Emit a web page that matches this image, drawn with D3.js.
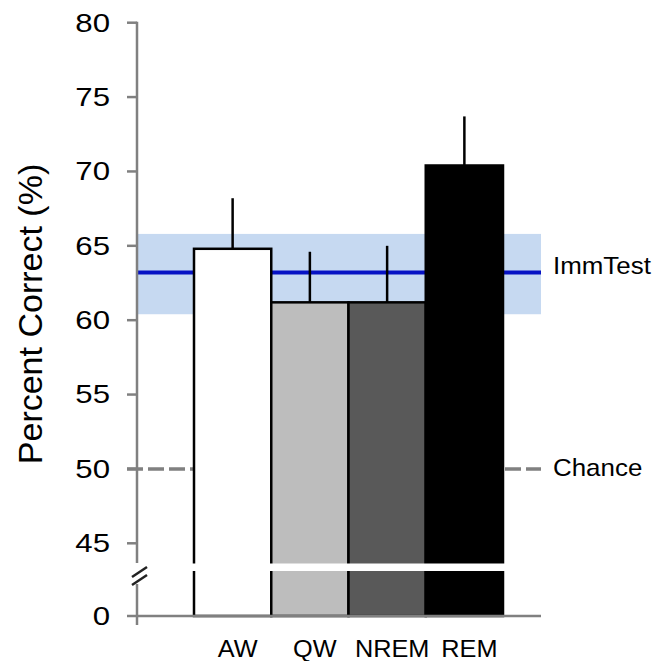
<!DOCTYPE html>
<html>
<head>
<meta charset="utf-8">
<script src="https://cdn.jsdelivr.net/npm/d3@7"></script>
<style>
  body { margin: 0; background: #fff; }
  text { font-family: "Liberation Sans", Arial, sans-serif; fill: #000; }
</style>
</head>
<body>
<div id="chart"></div>
<script>
// data
var groups = ["AW", "QW", "NREM", "REM"];
var means = [64.8, 61.2, 61.2, 70.4];
var errs = [3.4, 3.4, 3.8, 3.3];
var barColors = ["#ffffff", "#bdbdbd", "#595959", "#000000"];
var yTicks = [45, 50, 55, 60, 65, 70, 75, 80];
var immTest = [63.2, 60.4, 65.8];   // mean, low, high
var chance = [50];

var W = 668, H = 661;
var axisX = 137, base = 616, rightEnd = 541;

var svg = d3.select("#chart").append("svg")
    .attr("width", W)
    .attr("height", H);

// text in the picture is a bit wider than plain Arial
function wideText(xp, yp, sx) {
  return "translate(" + xp + "," + yp + ") scale(" + sx + ",1)";
}

// upper (broken) scale and the bottom zero part
var y = d3.scaleLinear().domain([45, 80]).range([543.3, 22.7]);
var x = d3.scaleBand().domain(groups).range([194, 503]).padding(0);

// ImmTest band + line
svg.append("rect")
    .attr("x", axisX + 1)
    .attr("y", y(immTest[2]))
    .attr("width", rightEnd - axisX - 1)
    .attr("height", y(immTest[1]) - y(immTest[2]))
    .attr("fill", "#c6d9f1");
svg.append("line")
    .attr("x1", axisX + 1).attr("x2", rightEnd)
    .attr("y1", y(immTest[0])).attr("y2", y(immTest[0]))
    .attr("stroke", "#0612c4")
    .attr("stroke-width", 4);

// chance line
svg.selectAll(".chance").data(chance).enter().append("line")
    .attr("x1", 127).attr("x2", rightEnd)
    .attr("y1", function(d) { return y(d); })
    .attr("y2", function(d) { return y(d); })
    .attr("stroke", "#808080")
    .attr("stroke-width", 3.5)
    .attr("stroke-dasharray", "16,5");

// bars
svg.selectAll(".bar").data(groups).enter().append("rect")
    .attr("x", function(d) { return x(d); })
    .attr("y", function(d, i) { return y(means[i]); })
    .attr("width", x.bandwidth())
    .attr("height", function(d, i) { return base - y(means[i]); })
    .attr("fill", function(d, i) { return barColors[i]; })
    .attr("stroke", "#000")
    .attr("stroke-width", 2.5);

// error bars (upper only)
svg.selectAll(".err").data(groups).enter().append("line")
    .attr("x1", function(d) { return x(d) + x.bandwidth() / 2; })
    .attr("x2", function(d) { return x(d) + x.bandwidth() / 2; })
    .attr("y1", function(d, i) { return y(means[i]); })
    .attr("y2", function(d, i) { return y(means[i] + errs[i]); })
    .attr("stroke", "#000")
    .attr("stroke-width", 2.5);

// the break through the bars
svg.append("rect")
    .attr("x", 190).attr("y", 563.5)
    .attr("width", 317).attr("height", 7.5)
    .attr("fill", "#fff");

// y axis, drawn by hand because of the break
var axisColor = "#808080";
svg.append("line")
    .attr("x1", axisX).attr("x2", axisX)
    .attr("y1", y(80) - 1).attr("y2", 563)
    .attr("stroke", axisColor).attr("stroke-width", 2.5);
svg.append("line")
    .attr("x1", axisX).attr("x2", axisX)
    .attr("y1", 584).attr("y2", 625)
    .attr("stroke", axisColor).attr("stroke-width", 2.5);
svg.selectAll(".tick").data(yTicks).enter().append("line")
    .attr("x1", 127).attr("x2", axisX)
    .attr("y1", function(d) { return y(d); })
    .attr("y2", function(d) { return y(d); })
    .attr("stroke", axisColor).attr("stroke-width", 2.5);
svg.selectAll(".tickLabel").data(yTicks).enter().append("text")
    .attr("transform", function(d) { return wideText(110, y(d), 1.2); })
    .attr("dy", "0.34em")
    .attr("text-anchor", "end")
    .attr("font-size", "26px")
    .text(function(d) { return d; });
svg.append("text")
    .attr("transform", wideText(110, base, 1.2))
    .attr("dy", "0.34em")
    .attr("text-anchor", "end")
    .attr("font-size", "26px")
    .text("0");

// x axis line
svg.append("line")
    .attr("x1", 127).attr("x2", rightEnd)
    .attr("y1", base).attr("y2", base)
    .attr("stroke", axisColor).attr("stroke-width", 2.5);

// break marks
[0, 8].forEach(function(o) {
  svg.append("line")
      .attr("x1", 132).attr("y1", 577 + o)
      .attr("x2", 147).attr("y2", 567 + o)
      .attr("stroke", "#222").attr("stroke-width", 2.5);
});

// x labels
svg.selectAll(".xLabel").data(groups).enter().append("text")
    .attr("transform", function(d) { return wideText(x(d) + x.bandwidth() / 2 + 5, 657, 1.1); })
    .attr("text-anchor", "middle")
    .attr("font-size", "23px")
    .text(function(d) { return d; });

// annotations
svg.append("text")
    .attr("transform", wideText(553, 274, 1.08))
    .attr("font-size", "24px")
    .text("ImmTest");
svg.append("text")
    .attr("transform", wideText(553, 476, 1.08))
    .attr("font-size", "24px")
    .text("Chance");

// y title
svg.append("text")
    .attr("transform", "translate(42,314) rotate(-90)")
    .attr("text-anchor", "middle")
    .attr("font-size", "34px")
    .text("Percent Correct (%)");
</script>
</body>
</html>
